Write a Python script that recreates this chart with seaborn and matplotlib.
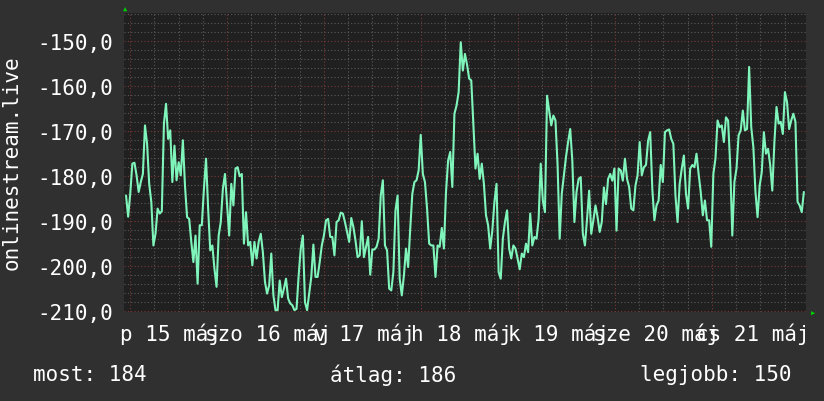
import numpy as np
import pandas as pd
import matplotlib
matplotlib.use("Agg")
import matplotlib.pyplot as plt
import seaborn as sns
from matplotlib.ticker import MultipleLocator, FuncFormatter

values = [
 -184.4,-189.1,-184,-177.3,-177.1,-179.9,-183.6,-181.4,-179.6,-168.8,-172.9,-181.8,-185.8,-195.5,-192.9,-187.3,-188.4,-187.9,
 -168.4,-164,-171.8,-169.9,-181.4,-173.3,-181,-177,-179.9,-172.1,-182.2,-189.2,-189.6,-194.7,-199.2,-193.3,-204,-191,-191,
 -182.9,-176.2,-187.3,-196.6,-195.5,-200.7,-204.7,-193.3,-190.3,-182.9,-179.6,-186.6,-193.3,-181.8,-186.6,-178.4,-178.1,
 -180.1,-179.6,-195.1,-188.1,-195.5,-194.7,-199.9,-194.7,-198.4,-194.7,-192.9,-197,-203.6,-206.2,-204.4,-197.3,-206.6,
 -209.9,-209.9,-203.3,-207,-205.1,-202.9,-207.3,-208.4,-208.8,-209.9,-209.6,
 -202.2,-196.2,-193.3,-208.1,-209.9,-206.2,-202.5,-195.3,-202.5,-202.5,-199.2,-195.5,-193.3,-189.9,-189.6,-193.6,-193.6,
 -197.7,-190.3,-189.9,-188.2,-188.4,-190.3,-192.5,-194.7,-189.4,-191.4,-194.4,-198.1,-197.7,-190.1,-198.1,-195.8,-193.6,
 -202,-196.4,-196.4,-195.8,-194,-184.4,-181,-195.5,-196.6,-205.1,-205.5,-201.4,-187.7,-184.4,-202.9,-206.6,-202.2,-196.2,
 -200.3,-191.8,-184,-181.4,-181,-178.8,-170.9,-179.6,-181.4,-187.3,-195.1,-195.5,-195.5,-202.5,-195.5,-195.8,-191.6,-196.2,
 -183.6,-176.6,-174.7,-182.5,-166.2,-164.4,-161.4,-150.3,-156.6,-152.9,-155.3,
 -158.4,-158.8,-168.8,-178.4,-175.1,-180.7,-177.3,-181.8,-188.8,-191,-196.2,-192.2,-185.8,-181.8,-201.4,-202.9,-194,-190.3,
 -187.7,-196.2,-198.4,-195.5,-196.2,-198.4,-200.8,-197.3,-198.1,-195.1,-197,-188.4,-195.5,-193.6,-194,-189.6,-177.3,-185.5,
 -188.1,-162.2,-165.5,-168.8,-166.6,-167.7,-177.6,-194,-184,-179.9,-175.8,-172.5,-169.6,-176.6,-190.3,-183.6,-180.7,-180.3,
 -192.9,-195.5,-189.6,-183.3,-192.9,-189.9,-186.6,-189.2,-192.5,-190.3,-182.6,-186.3,-180.7,-179.6,-181.1,-178.4,-192.2,
 -178.4,-178.8,-181.1,-176.2,-180.7,-182.5,-187.3,
 -187.7,-182.2,-179.9,-172.5,-179.9,-178.1,-177.6,-172.2,-170.3,-182.9,-189.9,-186.6,-185.5,-177.6,-181.4,-170.3,-169.9,
 -169.7,-171.8,-172.9,-184.4,-190.3,-181.8,-178.4,-175.5,-184,-187.3,-178.4,-177.6,-178.1,-175.1,-179.6,-183.6,-188.8,
 -185.5,-189.9,-189.9,-195.8,-179.6,-176.2,-167.7,-169.2,-168.8,-172.5,-167,-167.7,-177.6,-193.3,-181.4,-178.4,-171,
 -169.9,-165.5,-169.9,-169.6,-155.8,-169.2,-173.6,-183.6,-189.2,-182.2,-179.2,-170.3,-175.1,-174,-177.6,-183.3,-172.5,
 -164.7,-168.4,-168,-170.7,-161.4,-163.6,-169.6,-167.7,-166.2,-168,-185.8,-186.6,-188.1,-183.6,
]
start_day, end_day = -0.041, 6.948
day_labels = ["p 15 máj", "szo 16 máj", "v 17 máj", "h 18 máj", "k 19 máj", "sze 20 máj", "cs 21 máj"]
y_ticks = [-210, -200, -190, -180, -170, -160, -150]
ylabel = "onlinestream.live"
stats = ["most: 184", "átlag: 186", "legjobb: 150"]

df = pd.DataFrame({"t": np.linspace(start_day, end_day, len(values)), "v": values})

sns.set_theme(style="dark")
plt.rcParams["font.family"] = ["DejaVu Sans Mono", "DejaVu Sans"]
BG = "#303030"
fig = plt.figure(figsize=(8.24, 4.02), dpi=100, facecolor=BG)
ax = fig.add_axes([124/824, 1-313/402, (806-124)/824, (313-14)/402])
ax.set_facecolor("#202020")
sns.lineplot(data=df, x="t", y="v", ax=ax, color="#80f5bb", linewidth=1.5, zorder=3)
ax.set_xlim(-0.062, 6.97)
ax.set_ylim(-210.3, -143.8)
ax.yaxis.set_major_locator(MultipleLocator(10))
ax.yaxis.set_minor_locator(MultipleLocator(2))
ax.xaxis.set_major_locator(MultipleLocator(1))
ax.xaxis.set_minor_locator(MultipleLocator(0.25))
ax.grid(which="minor", color="#5a5a5a", linestyle=(0, (1, 2)), linewidth=0.8)
ax.grid(which="major", color="#7a3838", linestyle=(0, (1, 2)), linewidth=0.8)
ax.set_yticks(y_ticks)
ax.yaxis.set_major_formatter(FuncFormatter(lambda v, p: f"{v:.1f}".replace(".", ",")))
ax.tick_params(axis="y", colors="white", labelsize=15, length=0, pad=8)
ax.set_xticklabels([])
ax.tick_params(axis="x", length=0)
for i, lab in enumerate(day_labels):
    ax.text(i + 0.42, -0.035, lab, transform=ax.get_xaxis_transform(), ha="center", va="top",
            color="white", fontsize=15, clip_on=False)
for s in ax.spines.values():
    s.set_visible(False)
ax.set_xlabel("")
ax.set_ylabel("")
fig.text(12/824, 1-163/402, ylabel, rotation=90, ha="center", va="center", color="white", fontsize=15)
fig.text(33/824, 1-375/402, stats[0], ha="left", va="center", color="white", fontsize=15)
fig.text(393/824, 1-375/402, stats[1], ha="center", va="center", color="white", fontsize=15)
fig.text(791/824, 1-375/402, stats[2], ha="right", va="center", color="white", fontsize=15)
fig.text(125/824, 1-10/402, "▲", ha="center", va="center", color="#00d000", fontsize=5)
fig.text(813/824, 1-314/402, "▶", ha="center", va="center", color="#00d000", fontsize=5)
fig.savefig("out.png", dpi=100, facecolor=BG)
